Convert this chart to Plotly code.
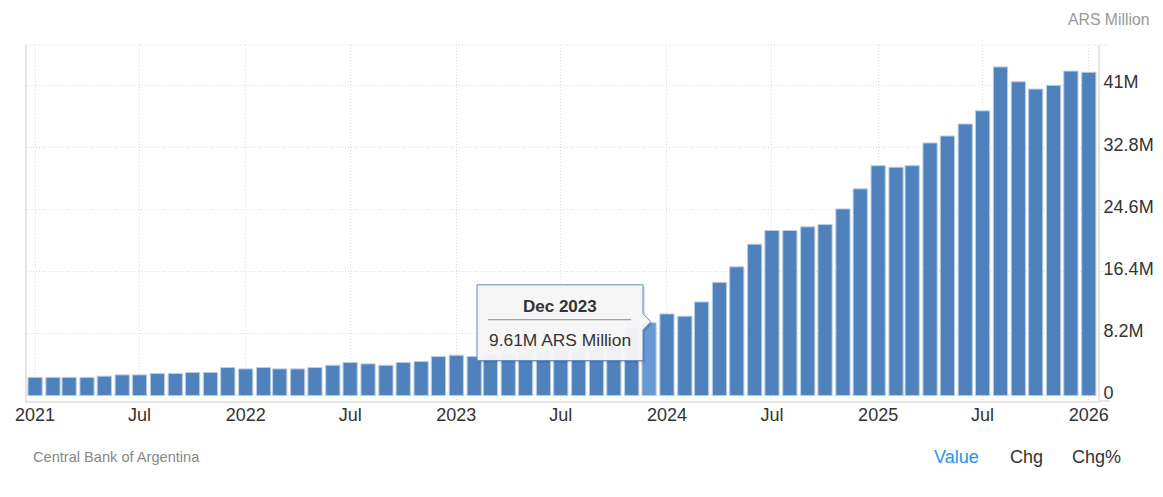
import pandas as pd
import plotly.graph_objects as go

# Monthly values, ARS million (in millions), Jan 2021 - Jan 2026
months = pd.date_range("2021-01-01", "2026-01-01", freq="MS")
values_2021 = [2.40, 2.40, 2.40, 2.40, 2.56, 2.73, 2.73, 2.91, 2.91, 3.05, 3.05, 3.70]
values_2022 = [3.52, 3.70, 3.52, 3.52, 3.70, 4.00, 4.36, 4.18, 4.00, 4.36, 4.49, 5.15]
values_2023 = [5.32, 5.15, 5.40, 5.50, 5.65, 5.90, 6.05, 6.20, 6.40, 6.90, 9.00, 9.61]
values_2024 = [10.78, 10.48, 12.36, 14.95, 17.00, 19.99, 21.80, 21.80, 22.28, 22.60, 24.65, 27.30]
values_2025 = [30.36, 30.15, 30.36, 33.36, 34.28, 35.86, 37.60, 43.40, 41.45, 40.48, 40.97, 42.85]
values_2026 = [42.70]
values = values_2021 + values_2022 + values_2023 + values_2024 + values_2025 + values_2026

y_ticks = [0, 8.2, 16.4, 24.6, 32.8, 41]
y_labels = ["0", "8.2M", "16.4M", "24.6M", "32.8M", "41M"]
x_ticks = pd.date_range("2021-01-01", "2026-01-01", freq="6MS")
x_labels = ["2021", "Jul", "2022", "Jul", "2023", "Jul", "2024", "Jul", "2025", "Jul", "2026"]

hover_month = pd.Timestamp("2023-12-01")
bar_colors = ["#6699d6" if m == hover_month else "#4f81bd" for m in months]

W, H = 1163, 497
L, R, T, B = 27, 1098, 44.5, 401.5
GRID = "#e6e6e6"
DOT_COLOR = "#dcdcdc"
DOTS = "1px,2px"


# pixel position in the page -> paper coordinates
def px(x):
    return (x - L) / (R - L)


def py(y):
    return (B - y) / (B - T)


fig = go.Figure(go.Bar(
    x=months, y=values,
    width=24.6 * 86400000,
    marker=dict(color=bar_colors, line=dict(color="#b9cde5", width=1)),
))

# tooltip box with its notch, plus a soft shadow
box = [(477, 285), (643, 285), (643, 314), (651, 322), (643, 330), (643, 361), (477, 361)]


def box_path(dx=0, dy=0):
    pts = ["%.5f %.5f" % (px(x + dx), py(y + dy)) for x, y in box]
    return "M " + " L ".join(pts) + " Z"


shapes = [
    dict(type="line", xref="paper", yref="paper", x0=0, x1=px(1110), y0=1, y1=1,
         line=dict(color=DOT_COLOR, width=1, dash=DOTS)),
    dict(type="line", xref="paper", yref="paper", x0=1, x1=px(1110), y0=0, y1=0,
         line=dict(color=GRID, width=2)),
    dict(type="path", xref="paper", yref="paper", path=box_path(2, 2), layer="above",
         fillcolor="rgba(0,0,0,0.12)", line=dict(width=0)),
    dict(type="path", xref="paper", yref="paper", path=box_path(), layer="above",
         fillcolor="rgba(247,247,247,0.96)", line=dict(color="#5b8ac4", width=1)),
    dict(type="line", xref="paper", yref="paper", x0=px(488), x1=px(631), y0=py(320), y1=py(320),
         layer="above", line=dict(color="#888888", width=1)),
]


def label(text, x, y, size, color, anchor="left", bold=False):
    if bold:
        text = "<b>" + text + "</b>"
    fig.add_annotation(text=text, xref="paper", yref="paper", x=px(x), y=py(y),
                       xanchor=anchor, yanchor="middle", showarrow=False,
                       font=dict(size=size, color=color), borderpad=0, borderwidth=0)


label("Dec 2023", 559.5, 307, 17, "#333333", "center", True)
label("9.61M ARS Million", 559.5, 340, 17.4, "#333333", "center")
label("ARS Million", 1150, 19, 15.8, "#999999", "right")
label("Central Bank of Argentina", 33, 458, 14.6, "#888888")
label("Value", 934, 458, 18, "#2196f3")
label("Chg", 1010, 458, 18, "#333333")
label("Chg%", 1072, 458, 18, "#333333")

fig.update_layout(
    width=W, height=H,
    margin=dict(l=L, r=W - R, t=T, b=H - B, pad=0),
    paper_bgcolor="white", plot_bgcolor="white",
    showlegend=False,
    font=dict(family="Liberation Sans, Arial, sans-serif", color="#333333"),
    shapes=shapes,
    xaxis=dict(
        type="date",
        automargin=False,
        range=["2020-12-18", "2026-01-17"],
        tickvals=x_ticks, ticktext=x_labels,
        tickfont=dict(size=18, color="#333333"),
        showgrid=True, gridcolor=DOT_COLOR, griddash=DOTS, gridwidth=1,
        showline=True, linecolor=GRID, linewidth=2,
        ticks="", ticklabelstandoff=-4,
    ),
    yaxis=dict(
        side="right",
        automargin=False,
        range=[-0.72, 46.3],
        tickvals=y_ticks, ticktext=y_labels,
        tickfont=dict(size=18, color="#333333"),
        showgrid=True, gridcolor=DOT_COLOR, griddash=DOTS, gridwidth=1,
        zeroline=False,
        showline=True, linecolor=GRID, linewidth=2, mirror=True,
        ticks="outside", ticklen=12, tickcolor="#f0f0f0", tickwidth=1,
        ticklabelstandoff=-12, ticklabelshift=-3,
    ),
)

fig.write_html("out.html", config=dict(displayModeBar=False),
               post_script="document.body.style.margin='0';document.body.style.overflow='hidden';")
